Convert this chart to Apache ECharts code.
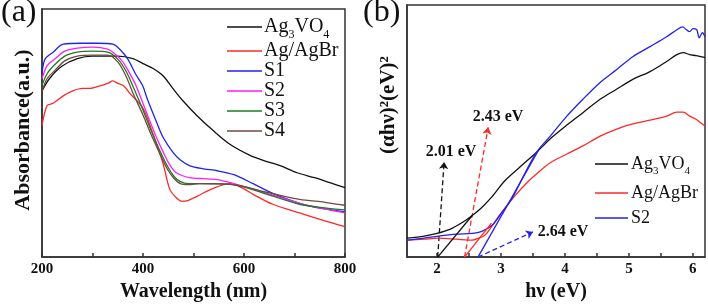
<!DOCTYPE html>
<html>
<head>
<meta charset="utf-8">
<script src="https://cdn.jsdelivr.net/npm/echarts@6/dist/echarts.min.js"></script>
<style>
  html, body { margin: 0; padding: 0; background: #fff; }
  #main { width: 708px; height: 307px; }
</style>
</head>
<body>
<div id="main"></div>
<script>
// (a) absorbance vs wavelength (arbitrary units 0..1)
const absAg3VO4 = [[200,0.67],[215,0.72],[240,0.77],[270,0.80],[300,0.81],[330,0.81],[350,0.81],[380,0.80],[400,0.78],[420,0.76],[440,0.73],[459,0.68],[479,0.63],[507,0.57],[539,0.51],[572,0.455],[612,0.41],[638,0.39],[670,0.37],[705,0.34],[740,0.32],[770,0.30],[800,0.28]];
const absAgAgBr = [[200,0.53],[210,0.61],[222,0.62],[242,0.65],[261,0.67],[280,0.68],[295,0.68],[315,0.69],[330,0.70],[340,0.71],[350,0.70],[362,0.69],[374,0.66],[400,0.60],[420,0.495],[440,0.375],[453,0.273],[467,0.237],[477,0.225],[490,0.229],[507,0.245],[539,0.277],[572,0.296],[598,0.277],[618,0.253],[657,0.213],[710,0.178],[760,0.146],[800,0.123]];
const absS1 = [[200,0.739],[206,0.798],[222,0.826],[242,0.858],[280,0.862],[310,0.862],[340,0.858],[354,0.838],[370,0.798],[385,0.739],[400,0.688],[408,0.640],[428,0.538],[440,0.482],[459,0.423],[474,0.391],[493,0.368],[520,0.356],[547,0.348],[580,0.332],[618,0.296],[657,0.257],[710,0.217],[760,0.194],[800,0.182]];
const absS2 = [[200,0.719],[210,0.771],[225,0.798],[245,0.830],[270,0.842],[300,0.846],[330,0.838],[345,0.818],[360,0.787],[374,0.739],[386,0.692],[408,0.577],[425,0.490],[440,0.423],[453,0.372],[466,0.340],[492,0.320],[520,0.316],[547,0.312],[580,0.296],[646,0.257],[710,0.217],[760,0.194],[800,0.178]];
const absS3 = [[200,0.692],[210,0.739],[225,0.775],[245,0.810],[270,0.826],[300,0.830],[330,0.826],[350,0.798],[366,0.751],[382,0.680],[400,0.593],[416,0.510],[432,0.435],[449,0.364],[462,0.324],[474,0.304],[490,0.296],[512,0.296],[578,0.292],[646,0.253],[710,0.213],[760,0.198],[800,0.190]];
const absS4 = [[200,0.668],[210,0.719],[225,0.751],[245,0.791],[270,0.810],[300,0.814],[330,0.814],[350,0.787],[366,0.731],[382,0.652],[400,0.573],[416,0.494],[432,0.423],[449,0.352],[462,0.316],[474,0.296],[490,0.292],[512,0.296],[578,0.292],[646,0.261],[710,0.233],[760,0.221],[800,0.209]];
const wlTicks = [200,300,400,500,600,700,800];
const wlLabels = [200,400,600,800];

// (b) Tauc plot
const tauAg3VO4 = [[1.53,0.075],[1.8,0.083],[2.0,0.094],[2.2,0.110],[2.4,0.138],[2.55,0.165],[2.7,0.197],[2.86,0.240],[3.06,0.303],[3.3,0.358],[3.56,0.417],[3.8,0.476],[4.03,0.524],[4.29,0.575],[4.55,0.626],[4.8,0.665],[5.06,0.705],[5.33,0.736],[5.59,0.776],[5.75,0.803],[5.85,0.811],[5.95,0.803],[6.05,0.799],[6.19,0.791]];
const tauAgAgBr = [[1.53,0.067],[1.8,0.071],[2.02,0.075],[2.3,0.071],[2.55,0.067],[2.65,0.075],[2.75,0.087],[2.91,0.142],[3.02,0.181],[3.22,0.244],[3.42,0.299],[3.56,0.331],[3.77,0.374],[4.03,0.409],[4.28,0.441],[4.55,0.480],[4.81,0.508],[5.06,0.528],[5.33,0.543],[5.59,0.559],[5.75,0.575],[5.85,0.575],[5.95,0.559],[6.05,0.547],[6.11,0.535],[6.19,0.520]];
const tauS2 = [[1.53,0.067],[1.8,0.075],[2.02,0.083],[2.3,0.091],[2.55,0.094],[2.7,0.102],[2.86,0.126],[2.98,0.165],[3.17,0.232],[3.33,0.311],[3.56,0.417],[3.77,0.480],[4.03,0.559],[4.28,0.626],[4.55,0.693],[4.81,0.744],[5.06,0.795],[5.33,0.835],[5.59,0.874],[5.75,0.902],[5.84,0.913],[5.9,0.902],[5.95,0.894],[6.0,0.906],[6.06,0.902],[6.1,0.870],[6.15,0.890],[6.19,0.874]];
// tangent fits and the dashed arrows pointing at the gap values
const fitAg3VO4 = [[2.01,0],[2.55,0.165]];
const fitAgAgBr = [[2.43,0],[2.85,0.135]];
const fitS2 = [[2.64,0],[3.58,0.421]];
const arrowAg3VO4 = [[2.01,0],[2.11,0.377]];
const arrowAgAgBr = [[2.43,0],[2.80,0.515]];
const arrowS2 = [[2.64,0],[3.50,0.100]];
const evTicks = [2,2.5,3,3.5,4,4.5,5,5.5,6];
const evLabels = [2,3,4,5,6];

const serif = '"Liberation Serif", "Times New Roman", serif';
const C = { black: '#111111', red: '#ff2828', blue: '#2222e8', magenta: '#ff1aff', green: '#1f7a24', brown: '#6e4b40' };

// legend text, with real subscripts for Ag3VO4
const names = {
  'Ag3VO4': '{n|Ag}{s|3}{n|VO}{s|4}', 'Ag/AgBr': '{n|Ag/AgBr}', 'S1': '{n|S1}', 'S2': '{n|S2}', 'S3': '{n|S3}', 'S4': '{n|S4}',
  'b-Ag3VO4': '{n|Ag}{s|3}{n|VO}{s|4}', 'b-Ag/AgBr': '{n|Ag/AgBr}', 'b-S2': '{n|S2}'
};
function richFor(size) {
  return {
    n: { fontFamily: serif, fontSize: size, color: '#111', lineHeight: size, verticalAlign: 'top' },
    s: { fontFamily: serif, fontSize: Math.round(size * 0.62), color: '#111', lineHeight: Math.round(size * 0.62), verticalAlign: 'top', padding: [Math.round(size * 0.6), 0, 0, 0] }
  };
}

function curve(name, data, color, axis) {
  return {
    name: name, type: 'line', data: data, xAxisIndex: axis, yAxisIndex: axis,
    showSymbol: false, symbol: 'none', smooth: 0.3,
    lineStyle: { color: color, width: 1.3 }, itemStyle: { color: color }
  };
}
function fit(data, color) {
  return {
    type: 'line', data: data, xAxisIndex: 1, yAxisIndex: 1, showSymbol: false, symbol: 'none',
    silent: true, lineStyle: { color: color, width: 1.3 }
  };
}
function arrow(data, color) {
  return {
    type: 'lines', coordinateSystem: 'cartesian2d', xAxisIndex: 1, yAxisIndex: 1, silent: true,
    symbol: ['none', 'arrow'], symbolSize: 7,
    lineStyle: { color: color, width: 1.3, type: [5, 3], opacity: 1, curveness: 0 },
    data: [{ coords: data }]
  };
}

const axisLine = { lineStyle: { color: '#333', width: 1.5 } };
const labelStyle = { color: '#111', fontFamily: serif, fontWeight: 'bold', fontSize: 15, margin: 5 };
const nameStyle = { color: '#111', fontFamily: serif, fontWeight: 'bold', fontSize: 20 };

const chart = echarts.init(document.getElementById('main'));
chart.setOption({
  animation: false,
  grid: [
    { left: 42, top: 9, width: 303, height: 253, show: true, borderColor: '#333', borderWidth: 1.5 },
    { left: 407, top: 5, width: 298, height: 254, show: true, borderColor: '#333', borderWidth: 1.5 }
  ],
  xAxis: [
    {
      gridIndex: 0, type: 'value', min: 200, max: 800, splitLine: { show: false }, axisLine: axisLine,
      axisTick: { inside: true, length: 4, customValues: wlTicks, lineStyle: { color: '#333', width: 1.5 } },
      axisLabel: Object.assign({ customValues: wlLabels }, labelStyle),
      name: 'Wavelength (nm)', nameLocation: 'middle', nameGap: 19, nameTextStyle: nameStyle
    },
    {
      gridIndex: 1, type: 'value', min: 1.53, max: 6.19, splitLine: { show: false }, axisLine: axisLine,
      axisTick: { inside: true, length: 4, customValues: evTicks, lineStyle: { color: '#333', width: 1.5 } },
      axisLabel: Object.assign({ customValues: evLabels }, labelStyle),
      name: 'hν (eV)', nameLocation: 'middle', nameGap: 19, nameTextStyle: nameStyle
    }
  ],
  yAxis: [
    {
      gridIndex: 0, type: 'value', min: 0, max: 1, splitLine: { show: false }, axisLine: axisLine,
      axisTick: { show: false }, axisLabel: { show: false },
      name: 'Absorbance(a.u.)', nameLocation: 'middle', nameGap: 8,
      nameTextStyle: Object.assign({}, nameStyle, { fontSize: 22, padding: [0, 0, 0, 6] })
    },
    {
      gridIndex: 1, type: 'value', min: 0, max: 1, splitLine: { show: false }, axisLine: axisLine,
      axisTick: { show: false }, axisLabel: { show: false },
      name: '(αhν)²(eV)²', nameLocation: 'middle', nameGap: 8,
      nameTextStyle: Object.assign({}, nameStyle, { fontSize: 21, padding: [0, 0, 0, 52] })
    }
  ],
  legend: [
    {
      data: ['Ag3VO4', 'Ag/AgBr', 'S1', 'S2', 'S3', 'S4'],
      orient: 'vertical', left: 222, top: 12, itemWidth: 35, itemHeight: 1.4, itemGap: 0, icon: 'rect',
      formatter: function (n) { return names[n]; },
      textStyle: { rich: richFor(20), padding: [0, 0, 0, -3] }
    },
    {
      data: ['b-Ag3VO4', 'b-Ag/AgBr', 'b-S2'],
      orient: 'vertical', left: 590, top: 150, itemWidth: 33, itemHeight: 1.4, itemGap: 7, icon: 'rect',
      formatter: function (n) { return names[n]; },
      textStyle: { rich: richFor(18), padding: [0, 0, 0, -2] }
    }
  ],
  graphic: [
    { type: 'text', left: 1, top: -3, style: { text: '(a)', font: '32px ' + serif, fill: '#111' } },
    { type: 'text', left: 363, top: -3, style: { text: '(b)', font: '32px ' + serif, fill: '#111' } },
    { type: 'text', x: 451, y: 152, style: { text: '2.01 eV', font: 'bold 16px ' + serif, fill: '#111', align: 'center', verticalAlign: 'middle' } },
    { type: 'text', x: 498, y: 117, style: { text: '2.43 eV', font: 'bold 16px ' + serif, fill: '#111', align: 'center', verticalAlign: 'middle' } },
    { type: 'text', x: 563, y: 232, style: { text: '2.64 eV', font: 'bold 16px ' + serif, fill: '#111', align: 'center', verticalAlign: 'middle' } }
  ],
  series: [
    curve('Ag3VO4', absAg3VO4, C.black, 0),
    curve('Ag/AgBr', absAgAgBr, C.red, 0),
    curve('S1', absS1, C.blue, 0),
    curve('S2', absS2, C.magenta, 0),
    curve('S3', absS3, C.green, 0),
    curve('S4', absS4, C.brown, 0),
    curve('b-Ag3VO4', tauAg3VO4, C.black, 1),
    curve('b-Ag/AgBr', tauAgAgBr, C.red, 1),
    curve('b-S2', tauS2, C.blue, 1),
    fit(fitAg3VO4, C.black),
    fit(fitAgAgBr, C.red),
    fit(fitS2, C.blue),
    arrow(arrowAg3VO4, C.black),
    arrow(arrowAgAgBr, C.red),
    arrow(arrowS2, C.blue)
  ]
});
</script>
</body>
</html>
